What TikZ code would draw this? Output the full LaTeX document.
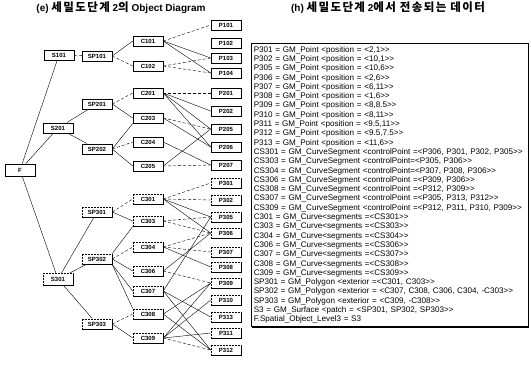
\documentclass[tikz,border=0pt]{standalone}
\usepackage{fontspec}
\setmainfont{Liberation Sans}
\newfontfamily\kr[Scale=1.15,LetterSpace=12]{Noto Sans CJK KR}
\usetikzlibrary{shadows}
\tikzset{
  obj/.style={draw,fill=white,minimum width=30pt,minimum height=10.5pt,inner sep=1pt,line width=.5pt,font=\fontsize{6}{7}\selectfont\bfseries,drop shadow={shadow xshift=.8pt,shadow yshift=-.8pt,opacity=1,fill=black}},
  objd/.style={obj,densely dotted},
  ln/.style={line width=.4pt},
  dl/.style={line width=.4pt,dash pattern=on 3pt off 2pt},
  ttl/.style={font=\fontsize{10}{12}\selectfont\bfseries},
  listbox/.style={draw,fill=white,anchor=north west,align=left,text width=272pt,inner xsep=2.5pt,inner ysep=3pt,line width=.5pt,font=\fontsize{8.1}{9.3}\selectfont,drop shadow={shadow xshift=1pt,shadow yshift=-1pt,opacity=1,fill=black}},
}
\begin{document}
\begin{tikzpicture}[x=1pt,y=-1pt]
 \useasboundingbox (0,0) rectangle (531,365);
 % titles
 \node[ttl] (ttlE) at (121,8) {(e) {\kr 세밀도단계} 2{\kr 의} Object Diagram};
 \node[ttl] (ttlH) at (388,8) {(h) {\kr 세밀도단계} 2{\kr 에서 전송되는 데이터}};
 % object tree
 \node[obj,minimum height=12.5pt] (F) at (20,170) {F};
 \node[obj] (S101) at (59,55) {S101};
 \node[obj] (S201) at (58,128) {S201};
 \node[objd,minimum height=12pt] (S301) at (58,279) {S301};
 \node[obj] (SP101) at (97,56) {SP101};
 \node[obj] (SP201) at (97,104) {SP201};
 \node[obj] (SP202) at (97,149) {SP202};
 \node[objd] (SP301) at (97,212) {SP301};
 \node[objd] (SP302) at (97,259) {SP302};
 \node[objd] (SP303) at (97,324) {SP303};
 \node[obj] (C101) at (148,41) {C101};
 \node[obj] (C102) at (148,66) {C102};
 \node[obj] (C201) at (148,93) {C201};
 \node[obj] (C203) at (148,118) {C203};
 \node[obj] (C204) at (148,142) {C204};
 \node[obj] (C205) at (148,166) {C205};
 \node[objd] (C301) at (148,199) {C301};
 \node[objd] (C303) at (148,221) {C303};
 \node[objd] (C304) at (148,247) {C304};
 \node[objd] (C306) at (148,271) {C306};
 \node[objd] (C307) at (148,291) {C307};
 \node[objd] (C308) at (148,314) {C308};
 \node[objd] (C309) at (148,338) {C309};
 \node[obj] (P101) at (226,25) {P101};
 \node[obj] (P102) at (226,43) {P102};
 \node[obj] (P103) at (226,58) {P103};
 \node[obj] (P104) at (226,73) {P104};
 \node[obj] (P201) at (226,93) {P201};
 \node[obj] (P202) at (226,111) {P202};
 \node[obj] (P205) at (226,129) {P205};
 \node[obj] (P206) at (226,147) {P206};
 \node[obj] (P207) at (226,165) {P207};
 \node[objd] (P301) at (226,183) {P301};
 \node[objd] (P302) at (226,200) {P302};
 \node[objd] (P305) at (226,217) {P305};
 \node[objd] (P306) at (226,233) {P306};
 \node[objd] (P307) at (226,252) {P307};
 \node[objd] (P308) at (226,267) {P308};
 \node[objd] (P309) at (226,283) {P309};
 \node[objd] (P310) at (226,300) {P310};
 \node[objd] (P313) at (226,317) {P313};
 \node[objd] (P311) at (226,333) {P311};
 \node[objd] (P312) at (226,350) {P312};
 % feature -> surfaces -> patches
 \draw[ln](F)--(S101); \draw[ln](F)--(S201); \draw[ln](F)--(S301);
 \draw[dl](S101)--(SP101);
 \draw[ln](S201)--(SP201); \draw[ln](S201)--(SP202);
 \draw[ln](S301)--(SP301); \draw[ln](S301)--(SP302); \draw[ln](S301)--(SP303);
 % patches -> curves
 \draw[ln](SP101.east)--(C101.west); \draw[dl](SP101.east)--(C102.west);
 \draw[dl](SP201.east)--(C201.west); \draw[ln](SP201.east)--(C203.west);
 \draw[ln](SP202.east)--(C203.south west); \draw[dl](SP202.east)--(C204.west); \draw[ln](SP202.east)--(C205.west);
 \draw[dl](SP301.east)--(C301.west); \draw[ln](SP301.east)--(C303.west);
 \draw[ln](SP302.north east)--(C303.south west); \draw[dl](SP302.east)--(C304.west); \draw[ln](SP302.east)--(C306.west);
 \draw[ln](SP302.south east)--(C307.west); \draw[ln](SP302.south east)--(C308.north west);
 \draw[dl](SP303.east)--(C308.west); \draw[ln](SP303.east)--(C309.west);
 % curves -> points
 \draw[dl](C101.east)--(P101.west); \draw[ln](C101.east)--(P103.west); \draw[ln](C101.east)--(P104.west);
 \draw[dl](C102.east)--(P103.west); \draw[dl](C102.east)--(P104.west);
 \draw[dl](C201.east)--(P201.west); \draw[ln](C201.east)--(P202.west); \draw[ln](C201.east)--(P205.west); \draw[ln](C201.east)--(P206.west);
 \draw[dl](C203.east)--(P205.west); \draw[ln](C203.east)--(P206.west);
 \draw[ln](C204.east)--(P207.west);
 \draw[ln](C205.east)--(P205.west); \draw[dl](C205.east)--(P207.west);
 \draw[dl](C301.east)--(P301.west); \draw[dl](C301.east)--(P302.west); \draw[ln](C301.east)--(P305.west); \draw[ln](C301.east)--(P306.west);
 \draw[dl](C303.east)--(P305.west); \draw[dl](C303.east)--(P306.west);
 \draw[dl](C304.east)--(P306.west); \draw[dl](C304.east)--(P307.west); \draw[ln](C304.east)--(P308.west);
 \draw[ln](C306.east)--(P306.west); \draw[dl](C306.east)--(P309.west);
 \draw[ln](C307.east)--(P305.west); \draw[ln](C307.east)--(P313.west); \draw[ln](C307.east)--(P312.west);
 \draw[ln](C308.east)--(P309.west); \draw[ln](C308.east)--(P312.west);
 \draw[ln](C309.east)--(P309.west); \draw[ln](C309.east)--(P310.west); \draw[ln](C309.east)--(P311.west); \draw[dl](C309.east)--(P312.west);
 % transmitted data
 \node[listbox] (data) at (251,43) {%
  P301 = GM\_Point <position = <2,1>{}>\\
  P302 = GM\_Point <position = <10,1>{}>\\
  P305 = GM\_Point <position = <10,6>{}>\\
  P306 = GM\_Point <position = <2,6>{}>\\
  P307 = GM\_Point <position = <6,11>{}>\\
  P308 = GM\_Point <position = <1,6>{}>\\
  P309 = GM\_Point <position = <8,8.5>{}>\\
  P310 = GM\_Point <position = <8,11>{}>\\
  P311 = GM\_Point <position = <9.5,11>{}>\\
  P312 = GM\_Point <position = <9.5,7.5>{}>\\
  P313 = GM\_Point <position = <11,6>{}>\\
  CS301 = GM\_CurveSegment <controlPoint =<P306, P301, P302, P305>{}>\\
  CS303 = GM\_CurveSegment <controlPoint=<P305, P306>{}>\\
  CS304 = GM\_CurveSegment <controlPoint=<P307, P308, P306>{}>\\
  CS306 = GM\_CurveSegment <controlPoint =<P309, P306>{}>\\
  CS308 = GM\_CurveSegment <controlPoint =<P312, P309>{}>\\
  CS307 = GM\_CurveSegment <controlPoint =<P305, P313, P312>{}>\\
  CS309 = GM\_CurveSegment <controlPoint =<P312, P311, P310, P309>{}>\\
  C301 = GM\_Curve<segments =<CS301>{}>\\
  C303 = GM\_Curve<segments =<CS303>{}>\\
  C304 = GM\_Curve<segments =<CS304>{}>\\
  C306 = GM\_Curve<segments =<CS306>{}>\\
  C307 = GM\_Curve<segments =<CS307>{}>\\
  C308 = GM\_Curve<segments =<CS308>{}>\\
  C309 = GM\_Curve<segments =<CS309>{}>\\
  SP301 = GM\_Polygon <exterior =<C301, C303>{}>\\
  SP302 = GM\_Polygon <exterior = <C307, C308, C306, C304, -C303>{}>\\
  SP303 = GM\_Polygon <exterior = <C309, -C308>{}>\\
  S3 = GM\_Surface <patch = <SP301, SP302, SP303>{}>\\
  F.Spatial\_Object\_Level3 = S3};
\end{tikzpicture}
\end{document}
